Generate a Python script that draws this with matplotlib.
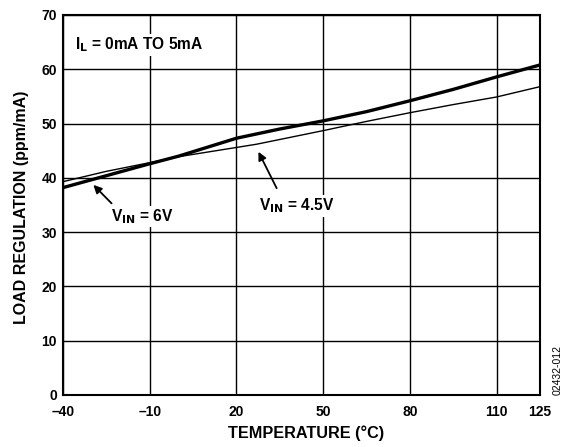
import matplotlib
matplotlib.use("Agg")
from matplotlib import pyplot as plt

plt.rcParams.update({
    "font.family": ["Liberation Sans", "DejaVu Sans"],
    "font.weight": "bold",
    "font.size": 10,
})

# temperature (deg C) and load regulation (ppm/mA)
temp_6v = [-40, -25, -10, 0, 20, 35, 50, 65, 80, 95, 110, 125]
reg_6v = [38.2, 40.4, 42.6, 44.0, 47.3, 49.0, 50.5, 52.2, 54.2, 56.3, 58.6, 60.8]

temp_45v = [-40, -25, -10, 0, 20, 27, 50, 65, 80, 95, 110, 125]
reg_45v = [39.3, 41.2, 42.8, 43.9, 45.6, 46.2, 48.7, 50.4, 52.0, 53.5, 54.9, 56.8]

x_ticks = [-40, -10, 20, 50, 80, 110, 125]
x_labels = ['\u201340', '\u201310', '20', '50', '80', '110', '125']
y_ticks = [0, 10, 20, 30, 40, 50, 60, 70]

fig = plt.figure(figsize=(5.66, 4.47), dpi=100)
ax = fig.add_axes([63 / 566, 1 - 395 / 447, 477 / 566, 380 / 447])

ax.plot(temp_6v, reg_6v, color='black', lw=2.4, zorder=4)
ax.plot(temp_45v, reg_45v, color='black', lw=1.0, zorder=4)

ax.set_xlim(-40, 125)
ax.set_ylim(0, 70)
ax.set_xticks(x_ticks)
ax.set_xticklabels(x_labels)
ax.set_yticks(y_ticks)
ax.tick_params(axis='x', length=0, pad=7, labelsize=10)
ax.tick_params(axis='y', length=0, pad=4.5, labelsize=10)
ax.grid(True, color='black', lw=1.0)
ax.set_axisbelow(True)
for s in ax.spines.values():
    s.set_linewidth(1.5)

ax.set_xlabel('TEMPERATURE (\u00b0C)', fontsize=11.7, fontweight='bold')
ax.xaxis.set_label_coords(0.509, -0.08)
ax.set_ylabel('LOAD REGULATION (ppm/mA)', fontsize=11.5, fontweight='bold')
ax.yaxis.set_label_coords(-0.071, 0.494)

# labels with white boxes that break the grid lines
box = dict(facecolor='white', edgecolor='none', pad=1)
ax.text(-35.8, 64.5, r'I$_\mathbf{L}$ = 0mA TO 5mA', fontsize=11.2,
        fontweight='bold', va='center', ha='left', bbox=box, zorder=5)
ax.text(-12.4, 32.9, r'V$_\mathbf{IN}$ = 6V', fontsize=11.2,
        fontweight='bold', va='center', ha='center', bbox=box, zorder=5)
ax.text(40.8, 34.8, r'V$_\mathbf{IN}$ = 4.5V', fontsize=11.2,
        fontweight='bold', va='center', ha='center', bbox=box, zorder=5)

arrow = dict(arrowstyle='-|>', color='black', lw=1.3, mutation_scale=12,
             shrinkA=0, shrinkB=0)
ax.annotate('', xy=(-29.5, 38.7), xytext=(-23.2, 35.3), arrowprops=arrow, zorder=5)
ax.annotate('', xy=(27.6, 44.8), xytext=(33.9, 38.1), arrowprops=arrow, zorder=5)

fig.text(558 / 566, 1 - 370 / 447, '02432-012', rotation=90, fontsize=7.5,
         fontweight='normal', ha='center', va='center')

fig.savefig('out.png', dpi=100)
